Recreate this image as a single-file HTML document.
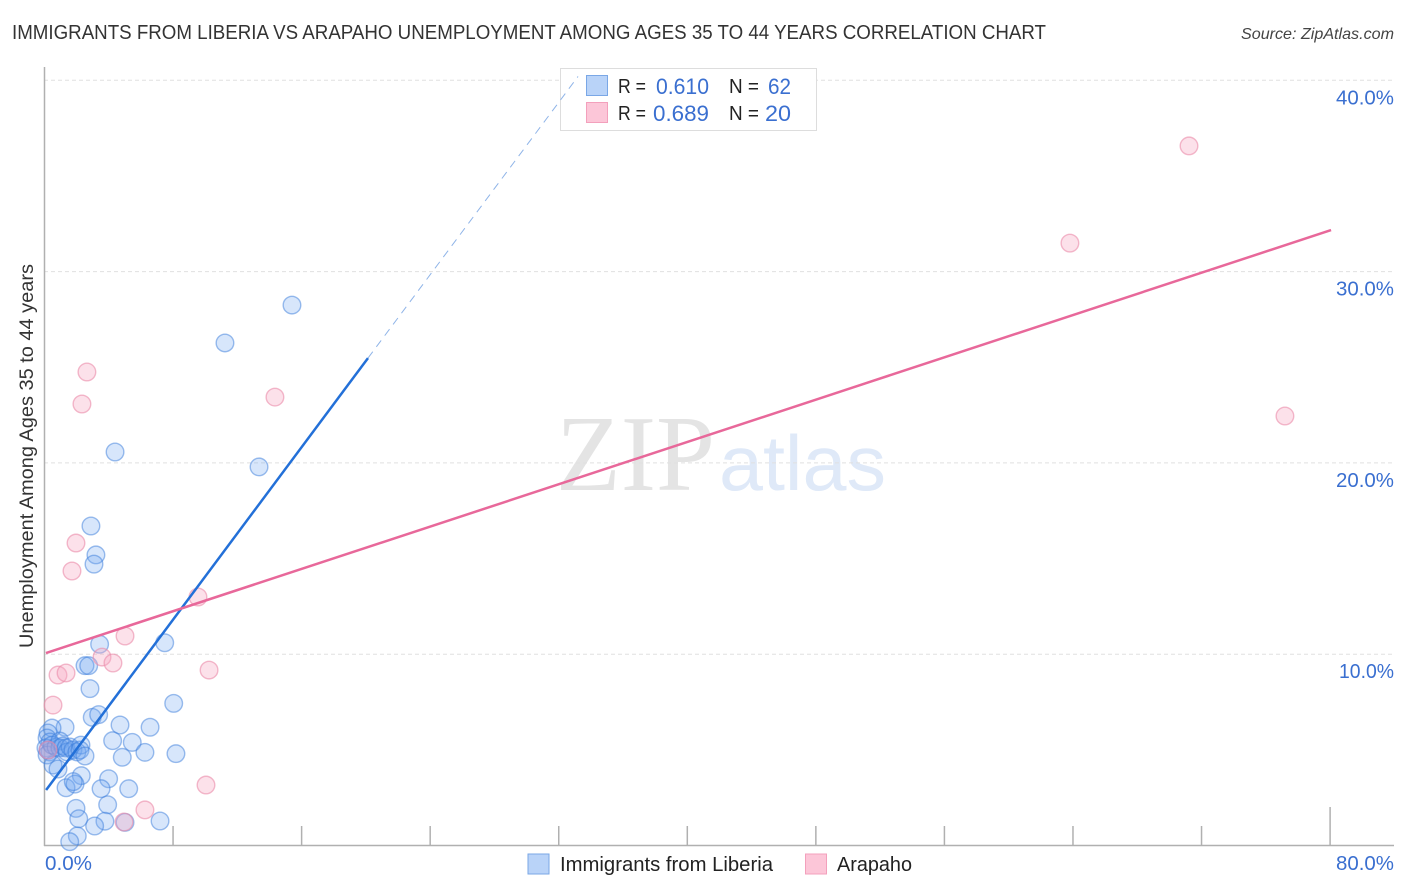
<!DOCTYPE html>
<html lang="en">
<head>
<meta charset="utf-8">
<title>Immigrants from Liberia vs Arapaho Unemployment Correlation Chart</title>
<style>
html,body{margin:0;padding:0;background:#fff;}
svg{display:block;font-family:"Liberation Sans",sans-serif;}
.tick-label{fill:#3a6fd0;font-size:20px;}
.legend-text{fill:#222;font-size:20px;}
.legend-val{fill:#3a6fd0;font-size:22px;}
</style>
</head>
<body>
<svg id="chart" width="1406" height="892" viewBox="0 0 1406 892" xmlns="http://www.w3.org/2000/svg">
  <text x="12" y="39" font-size="20" fill="#333" textLength="1034" lengthAdjust="spacingAndGlyphs">IMMIGRANTS FROM LIBERIA VS ARAPAHO UNEMPLOYMENT AMONG AGES 35 TO 44 YEARS CORRELATION CHART</text>
  <text x="1241" y="39" font-size="16" font-style="italic" fill="#444" textLength="153" lengthAdjust="spacingAndGlyphs">Source: ZipAtlas.com</text>

  <g id="watermark">
    <text x="556" y="490" font-family="'Liberation Serif',serif" font-size="108" fill="#e4e4e4" textLength="159" lengthAdjust="spacingAndGlyphs">ZIP</text>
    <text x="719" y="490" font-size="78" fill="#dfe9f8" textLength="167" lengthAdjust="spacingAndGlyphs">atlas</text>
  </g>

  <g id="grid"></g>
  <g id="axes"></g>
  <g id="ylabels"></g>
  <g id="points-blue"></g>
  <g id="points-pink"></g>

  <text transform="translate(33,648) rotate(-90)" font-size="19" fill="#333" textLength="384" lengthAdjust="spacingAndGlyphs">Unemployment Among Ages 35 to 44 years</text>
  <text class="tick-label" x="45" y="870" textLength="47" lengthAdjust="spacingAndGlyphs">0.0%</text>
  <text class="tick-label" x="1394" y="870" text-anchor="end" textLength="58" lengthAdjust="spacingAndGlyphs">80.0%</text>

  <g>
    <rect x="560.5" y="68.5" width="256" height="62" fill="#fff" stroke="#ddd" stroke-width="1"/>
    <rect x="586.5" y="75.5" width="21" height="20" fill="#b9d3f8" stroke="#7aa7e6" stroke-width="1"/>
    <rect x="586.5" y="102.5" width="21" height="20" fill="#fcc6d8" stroke="#f3a0bc" stroke-width="1"/>
    <text class="legend-text" x="618" y="93" font-size="19" textLength="28" lengthAdjust="spacingAndGlyphs">R =</text>
    <text class="legend-val" x="656" y="94" textLength="53" lengthAdjust="spacingAndGlyphs">0.610</text>
    <text class="legend-text" x="729" y="93" font-size="19" textLength="30" lengthAdjust="spacingAndGlyphs">N =</text>
    <text class="legend-val" x="768" y="94" textLength="23" lengthAdjust="spacingAndGlyphs">62</text>
    <text class="legend-text" x="618" y="120" font-size="19" textLength="28" lengthAdjust="spacingAndGlyphs">R =</text>
    <text class="legend-val" x="653" y="121" textLength="56" lengthAdjust="spacingAndGlyphs">0.689</text>
    <text class="legend-text" x="729" y="120" font-size="19" textLength="30" lengthAdjust="spacingAndGlyphs">N =</text>
    <text class="legend-val" x="765" y="121" textLength="26" lengthAdjust="spacingAndGlyphs">20</text>
  </g>

  <g id="trends"></g>

  <g>
    <rect x="528" y="854" width="21" height="20" fill="#b9d3f8" stroke="#7aa7e6" stroke-width="1"/>
    <text class="legend-text" x="560" y="871" font-size="19" textLength="213" lengthAdjust="spacingAndGlyphs">Immigrants from Liberia</text>
    <rect x="805.5" y="854" width="21" height="20" fill="#fcc6d8" stroke="#f3a0bc" stroke-width="1"/>
    <text class="legend-text" x="837" y="871" font-size="19" textLength="75" lengthAdjust="spacingAndGlyphs">Arapaho</text>
  </g>
</svg>
<script>
// Data (percent units)
const yTicks = [10, 20, 30, 40];
const xTicks = [0, 8, 16, 24, 32, 40, 48, 56, 64, 72, 80];
const liberiaX = [15.40, 11.23, 4.39, 13.35, 2.89, 3.20, 3.08, 3.43, 7.48, 2.52, 2.75, 2.83, 2.97, 3.37, 8.04, 4.70, 6.57, 1.28, 0.47, 4.24, 5.46, 6.25, 8.18, 4.84, 3.99, 2.29, 3.52, 5.24, 1.34, 1.90, 1.79, 3.93, 1.96, 2.13, 3.76, 3.12, 5.01, 7.19, 2.04, 1.57, 0.22, 0.16, 0.34, 0.09, 0.22, 0.34, 0.16, 0.47, 0.72, 0.96, 0.96, 1.15, 1.34, 1.40, 1.59, 1.77, 2.02, 2.27, 2.21, 2.52, 0.53, 0.84];
const liberiaY = [28.25, 26.27, 20.57, 19.79, 16.70, 15.19, 14.71, 10.52, 10.60, 9.40, 9.40, 8.20, 6.70, 6.84, 7.43, 6.30, 6.18, 6.18, 6.14, 5.48, 5.39, 4.87, 4.80, 4.61, 3.49, 3.65, 2.97, 2.97, 3.02, 3.21, 3.34, 2.13, 1.94, 1.40, 1.27, 1.02, 1.21, 1.28, 0.50, 0.20, 5.88, 5.62, 5.41, 5.10, 4.99, 4.89, 4.73, 5.25, 5.15, 5.46, 5.10, 5.20, 5.10, 4.89, 5.15, 4.99, 4.89, 5.25, 4.99, 4.68, 4.21, 4.00];
const arapahoX = [2.64, 2.33, 1.96, 1.71, 9.55, 5.01, 3.58, 4.26, 10.24, 0.84, 1.34, 0.53, 10.05, 6.25, 4.95, 14.34, 63.81, 71.22, 77.19, 0.22];
const arapahoY = [24.75, 23.08, 15.81, 14.35, 12.99, 10.95, 9.85, 9.54, 9.17, 8.91, 9.02, 7.34, 3.16, 1.86, 1.23, 23.44, 31.49, 36.57, 22.45, 4.99];
const liberiaTrendX = [0.1, 20.13];
const liberiaTrendY = [2.90, 25.48];
const liberiaDashX = [20.13, 33.2];
const liberiaDashY = [25.48, 40.2];
const arapahoTrendX = [0.09, 80.06];
const arapahoTrendY = [10.06, 32.17];

const NS = 'http://www.w3.org/2000/svg';
function sx(v) { return 44.5 + v * 16.07; }
function sy(v) { return 845.5 - v * 19.13; }
function mk(tag, attrs, parent) {
  const el = document.createElementNS(NS, tag);
  for (const k in attrs) el.setAttribute(k, attrs[k]);
  parent.appendChild(el);
  return el;
}

const grid = document.getElementById('grid');
const ylabels = document.getElementById('ylabels');
yTicks.forEach(function (t) {
  const yy = sy(t);
  const g = mk('line', {x1: 44, x2: 1394, y1: yy, y2: yy, stroke: '#e0e0e0', 'stroke-width': 1, 'stroke-dasharray': '4 3'}, grid);
  
  
  const lab = mk('text', {x: 1394, y: yy + 24, 'text-anchor': 'end', class: 'tick-label', textLength: t === 10 ? 55 : 58, lengthAdjust: 'spacingAndGlyphs'}, ylabels);
  lab.textContent = t.toFixed(1) + '%';
  
  
});

const axes = document.getElementById('axes');
const yAxis = mk('line', {x1: 44.5, x2: 44.5, y1: 67, y2: 846, stroke: '#b0b0b0', 'stroke-width': 1.5}, axes);


const xAxis = mk('line', {x1: 44, x2: 1394, y1: 845.5, y2: 845.5, stroke: '#b0b0b0', 'stroke-width': 1.5}, axes);


xTicks.forEach(function (t) {
  if (t === 0) return;
  const xx = sx(t);
  const tk = mk('line', {x1: xx, x2: xx, y1: t === 80 ? 807 : 826, y2: 845, stroke: '#b0b0b0', 'stroke-width': 1.5}, axes);
  
  
});

const pb = document.getElementById('points-blue');
liberiaX.forEach(function (v, i) {
  const c = mk('circle', {cx: sx(v), cy: sy(liberiaY[i]), r: 8.8, fill: 'rgba(110,165,240,0.28)', stroke: 'rgba(60,125,220,0.5)', 'stroke-width': 1.4}, pb);
  
  
});
const pp = document.getElementById('points-pink');
arapahoX.forEach(function (v, i) {
  const c = mk('circle', {cx: sx(v), cy: sy(arapahoY[i]), r: 8.8, fill: 'rgba(245,170,195,0.35)', stroke: 'rgba(235,140,170,0.6)', 'stroke-width': 1.4}, pp);
  
  
});

const tr = document.getElementById('trends');
const l1 = mk('line', {x1: sx(liberiaTrendX[0]), y1: sy(liberiaTrendY[0]), x2: sx(liberiaTrendX[1]), y2: sy(liberiaTrendY[1]), stroke: '#2370d8', 'stroke-width': 2.5}, tr);


const l2 = mk('line', {x1: sx(liberiaDashX[0]), y1: sy(liberiaDashY[0]), x2: sx(liberiaDashX[1]), y2: sy(liberiaDashY[1]), stroke: '#8fb4e8', 'stroke-width': 1, 'stroke-dasharray': '8 6'}, tr);


const l3 = mk('line', {x1: sx(arapahoTrendX[0]), y1: sy(arapahoTrendY[0]), x2: sx(arapahoTrendX[1]), y2: sy(arapahoTrendY[1]), stroke: '#e8689a', 'stroke-width': 2.5}, tr);


</script>
</body>
</html>
